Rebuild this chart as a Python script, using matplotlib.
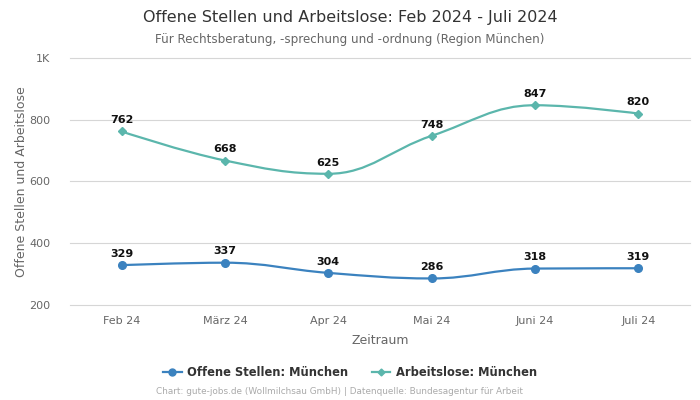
import matplotlib
matplotlib.use("Agg")
import matplotlib.pyplot as plt
from matplotlib.path import Path
from matplotlib.patches import PathPatch
from matplotlib.lines import Line2D

categories = ["Feb 24", "März 24", "Apr 24", "Mai 24", "Juni 24", "Juli 24"]
offene = [329, 337, 304, 286, 318, 319]
arbeitslose = [762, 668, 625, 748, 847, 820]
series_names = ["Offene Stellen: München", "Arbeitslose: München"]
colors = ["#3b82bf", "#5bb6ac"]
markers = ["o", "D"]


def spline_path(xs, ys):
    n = len(xs)
    sm = 1.5
    den = sm + 1
    lc = [None] * n
    rc = [None] * n
    for i in range(n):
        x, y = xs[i], ys[i]
        if 0 < i < n - 1:
            lx, ly = xs[i - 1], ys[i - 1]
            nx, ny = xs[i + 1], ys[i + 1]
            lcx = (sm * x + lx) / den
            lcy = (sm * y + ly) / den
            rcx = (sm * x + nx) / den
            rcy = (sm * y + ny) / den
            corr = 0
            if rcx != lcx:
                corr = (rcy - lcy) * (rcx - x) / (rcx - lcx) + y - rcy
            lcy += corr
            rcy += corr
            if lcy > ly and lcy > y:
                lcy = max(ly, y); rcy = 2 * y - lcy
            elif lcy < ly and lcy < y:
                lcy = min(ly, y); rcy = 2 * y - lcy
            if rcy > ny and rcy > y:
                rcy = max(ny, y); lcy = 2 * y - rcy
            elif rcy < ny and rcy < y:
                rcy = min(ny, y); lcy = 2 * y - rcy
            lc[i] = (lcx, lcy)
            rc[i] = (rcx, rcy)
        else:
            lc[i] = (x, y)
            rc[i] = (x, y)
    verts = [(xs[0], ys[0])]
    codes = [Path.MOVETO]
    for i in range(1, n):
        verts += [rc[i - 1], lc[i], (xs[i], ys[i])]
        codes += [Path.CURVE4] * 3
    return Path(verts, codes)


fig = plt.figure(figsize=(7, 4), dpi=100)
ax = fig.add_axes([0.1, 0.2375, 0.8857, 0.6175])

x = list(range(len(categories)))
for data, c, m, name in zip([offene, arbeitslose], colors, markers, series_names):
    p = spline_path(x, data)
    ax.add_patch(PathPatch(p, fill=False, edgecolor=c, lw=1.6, zorder=3))
    ax.plot(x, data, linestyle="none", marker=m, color=c,
            markersize=5.5 if m == "o" else 3.8, zorder=4)
    for xi, v in zip(x, data):
        ax.annotate(str(v), (xi, v), xytext=(0, 4.5), textcoords="offset points",
                    ha="center", va="bottom", fontsize=8, fontweight="bold",
                    color="#111111", zorder=5)

ax.set_xlim(-0.5, len(categories) - 0.5)
ax.set_ylim(200, 1000)
ax.set_yticks([200, 400, 600, 800, 1000])
ax.set_yticklabels(["200", "400", "600", "800", "1K"])
ax.set_xticks(x)
ax.set_xticklabels(categories)
ax.grid(axis="y", color="#d6d6d6", lw=0.8)
for gl in ax.get_ygridlines():
    gl.set_clip_on(False)
ax.set_axisbelow(True)
for s in ax.spines.values():
    s.set_visible(False)
ax.tick_params(axis="both", length=0, labelsize=8, colors="#666666")
ax.tick_params(axis="x", pad=8)
ax.tick_params(axis="y", pad=14)
ax.set_xlabel("Zeitraum", fontsize=9, color="#666666", labelpad=6)
ax.set_ylabel("Offene Stellen und Arbeitslose", fontsize=9, color="#666666", labelpad=1)

fig.text(0.5, 0.956, "Offene Stellen und Arbeitslose: Feb 2024 - Juli 2024",
         ha="center", va="center", fontsize=11.5, color="#333333")
fig.text(0.5, 0.902, "Für Rechtsberatung, -sprechung und -ordnung (Region München)",
         ha="center", va="center", fontsize=8.6, color="#666666")

handles = [Line2D([0], [0], color=c, marker=m, markersize=5 if m == "o" else 3.5, lw=1.6)
           for c, m in zip(colors, markers)]
leg = fig.legend(handles, series_names, loc="center", bbox_to_anchor=(0.5, 0.0675),
                 ncol=2, frameon=False, fontsize=8.3, handlelength=1.6,
                 columnspacing=2.0, handletextpad=0.5)
for t in leg.get_texts():
    t.set_fontweight("bold")
    t.set_color("#333333")

fig.text(0.485, 0.02, "Chart: gute-jobs.de (Wollmilchsau GmbH) | Datenquelle: Bundesagentur für Arbeit",
         ha="center", va="center", fontsize=6.4, color="#aaaaaa")

fig.savefig("out.png", dpi=100)
